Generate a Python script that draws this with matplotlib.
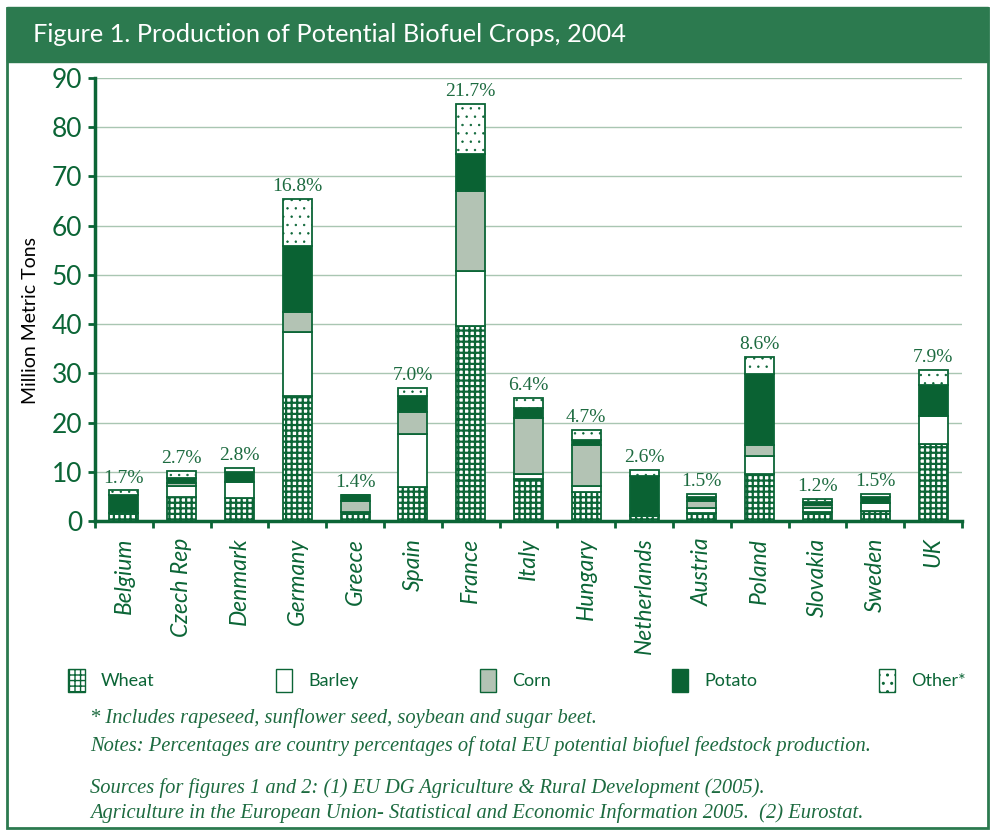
import matplotlib
matplotlib.use("Agg")
import matplotlib.pyplot as plt
from matplotlib.patches import Rectangle, Patch
import numpy as np

countries = ["Belgium", "Czech Rep", "Denmark", "Germany", "Greece", "Spain", "France",
             "Italy", "Hungary", "Netherlands", "Austria", "Poland", "Slovakia", "Sweden", "UK"]
wheat  = [1.6, 4.9, 4.6, 25.3, 1.8, 7.0, 39.6, 8.5, 5.8, 1.1, 1.7, 9.5, 1.8, 2.1, 15.6]
barley = [0.1, 2.2, 3.4, 13.1, 0.1, 10.6, 11.1, 1.0, 1.3, 0.1, 0.9, 3.8, 0.9, 1.6, 5.7]
corn   = [0.0, 0.6, 0.0, 4.0, 2.1, 4.6, 16.4, 11.5, 8.3, 0.1, 1.4, 2.1, 0.6, 0.0, 0.0]
potato = [3.6, 1.0, 1.9, 13.4, 1.2, 3.1, 7.5, 1.9, 1.1, 7.9, 0.9, 14.4, 0.5, 1.2, 6.3]
other  = [0.9, 1.5, 0.8, 9.6, 0.0, 1.7, 10.2, 2.0, 1.9, 1.1, 0.6, 3.6, 0.6, 0.6, 3.0]
pct_labels = ["1.7%", "2.7%", "2.8%", "16.8%", "1.4%", "7.0%", "21.7%", "6.4%", "4.7%",
              "2.6%", "1.5%", "8.6%", "1.2%", "1.5%", "7.9%"]
series_names = ["Wheat", "Barley", "Corn", "Potato", "Other*"]
y_ticks = [0, 10, 20, 30, 40, 50, 60, 70, 80, 90]

GREEN = "#0b6536"
DARK = "#0a6233"
CORN = "#b3c3b4"
GRID = "#a9c6b2"
BAR_GREEN = "#2c7a4f"
TEXT_GREEN = "#1d6b40"

fig = plt.figure(figsize=(9.95, 8.31), dpi=100)
W, H = 995, 831

def fx(px):
    return px / W

def fy(py):
    return 1 - py / H

# outer border and title bar
fig.patches.append(Rectangle((fx(7), fy(828)), fx(981), (828 - 8) / H, transform=fig.transFigure,
                             fill=False, edgecolor=BAR_GREEN, linewidth=2.0, zorder=0))
fig.patches.append(Rectangle((fx(7), fy(62)), fx(981), (62 - 7) / H, transform=fig.transFigure,
                             facecolor=BAR_GREEN, edgecolor=BAR_GREEN, zorder=0))
fig.text(fx(33), fy(35), "Figure 1. Production of Potential Biofuel Crops, 2004", color="white",
         fontsize=18.3, family="Lato", va="center", ha="left")

ax = fig.add_axes([fx(95), fy(521), fx(962 - 95), (521 - 78) / H])
x = np.arange(len(countries))
bw = 0.5

styles = [
    dict(facecolor="white", hatch="+++", edgecolor=GREEN),
    dict(facecolor="white", edgecolor=GREEN),
    dict(facecolor=CORN, edgecolor=GREEN),
    dict(facecolor=DARK, edgecolor=GREEN),
    dict(facecolor="white", hatch="..", edgecolor=GREEN),
]
hatch_lw = [1.6, 1.0, 1.0, 1.0, 0.5]
bottom = np.zeros(len(countries))
for vals, st, name, hl in zip([wheat, barley, corn, potato, other], styles, series_names, hatch_lw):
    v = np.array(vals)
    with plt.rc_context({"hatch.linewidth": hl}):
        ax.bar(x, v, bw, bottom=bottom, linewidth=1.3, zorder=3, label=name, **st)
    bottom = bottom + v

for xi, tot, lab in zip(x, bottom, pct_labels):
    ax.text(xi, tot + 0.8, lab, ha="center", va="bottom", color=TEXT_GREEN,
            family="Liberation Serif", fontsize=14)

ax.set_xlim(-0.5, len(countries) - 0.5)
ax.set_ylim(0, 90)
ax.set_yticks(y_ticks)
ax.set_yticklabels([str(t) for t in y_ticks], color=GREEN, fontsize=19, family="Lato")
ax.yaxis.grid(True, color=GRID, linewidth=1.0, zorder=0)
ax.set_axisbelow(True)
for s in ["top", "right"]:
    ax.spines[s].set_visible(False)
for s in ["left", "bottom"]:
    ax.spines[s].set_color(GREEN)
    ax.spines[s].set_linewidth(2.5)
ax.tick_params(axis="y", direction="out", length=5, width=2, color=GREEN, pad=4)

ax.set_xticks(x)
ax.set_xticklabels(countries, rotation=90, color=GREEN, fontsize=16.5, family="Lato",
                   style="italic", ha="center", va="top")
ax.tick_params(axis="x", which="major", length=0, pad=12)
ax.set_xticks(np.arange(-0.5, len(countries), 1.0), minor=True)
ax.tick_params(axis="x", which="minor", direction="out", length=5, width=2, color=GREEN)

ax.set_ylabel("Million Metric Tons", fontsize=14, color="black", family="Lato")
ax.yaxis.set_label_coords((39 - 95) / (962 - 95), (521 - 320) / (521 - 78))

# legend
handles = []
for st, hl in zip(styles, hatch_lw):
    with plt.rc_context({"hatch.linewidth": hl}):
        handles.append(Patch(linewidth=1.0, **st))
leg = fig.legend(handles, series_names, loc="lower left", ncol=5, mode="expand",
                 bbox_to_anchor=(fx(52), fy(708), fx(930), 0.035), frameon=False,
                 handlelength=0.9, handleheight=1.6, handletextpad=0.9,
                 prop=dict(family="Lato", size=13))
for t in leg.get_texts():
    t.set_color(GREEN)

notes = [
    ("* Includes rapeseed, sunflower seed, soybean and sugar beet.", 718),
    ("Notes: Percentages are country percentages of total EU potential biofuel feedstock production.", 746),
    ("Sources for figures 1 and 2: (1) EU DG Agriculture & Rural Development (2005).", 788),
    ("Agriculture in the European Union- Statistical and Economic Information 2005.  (2) Eurostat.", 813),
]
for txt, py in notes:
    fig.text(fx(90), fy(py), txt, color=TEXT_GREEN, family="Liberation Serif", style="italic",
             fontsize=14.8, va="center", ha="left")

fig.savefig("out.png", dpi=100)
